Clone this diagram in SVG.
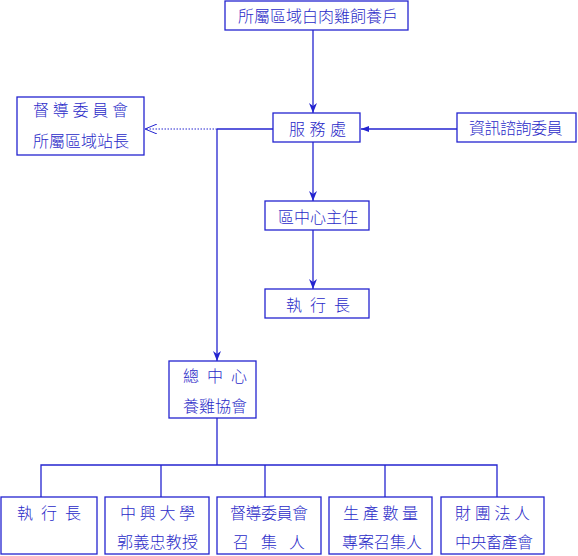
<svg xmlns="http://www.w3.org/2000/svg" width="578" height="556" viewBox="0 0 578 556">
<style>
.box{fill:#fff;stroke:#2424d0;stroke-width:1.3}
.ln{fill:none;stroke:#2424d0;stroke-width:1.3}
.dot{fill:none;stroke:#2424d0;stroke-width:1;stroke-dasharray:1.5 1.5}
text{font-family:"Noto Sans CJK TC","Noto Sans CJK SC",sans-serif;font-size:16px;font-weight:300;fill:#2a2ac8}
</style>
<defs>
<marker id="ah" viewBox="0 0 10 8" refX="10" refY="4" markerWidth="10" markerHeight="8" markerUnits="userSpaceOnUse" orient="auto">
<path d="M0,0 L10,4 L0,8 L3,4 Z" fill="#2424d0"/>
</marker>
<marker id="ahs" viewBox="0 0 8 6" refX="8" refY="3" markerWidth="8" markerHeight="6" markerUnits="userSpaceOnUse" orient="auto">
<path d="M0,0 L8,3 L0,6 Z" fill="#2424d0"/>
</marker>
<marker id="open" viewBox="0 0 12 10" refX="12" refY="5" markerWidth="12" markerHeight="10" markerUnits="userSpaceOnUse" orient="auto">
<path d="M0,0 L12,5 L0,10" fill="none" stroke="#2424d0" stroke-width="1"/>
</marker>
</defs>
<rect width="578" height="556" fill="#fff"/>
<g id="connectors">
<line class="ln" x1="313" y1="30" x2="313" y2="113" marker-end="url(#ah)"/>
<line class="ln" x1="457" y1="129" x2="361" y2="129" marker-end="url(#ahs)"/>
<line class="ln" x1="273" y1="129" x2="217" y2="129"/>
<line class="dot" x1="217" y1="129" x2="145" y2="129" marker-end="url(#open)"/>
<line class="ln" x1="217" y1="129" x2="217" y2="361" marker-end="url(#ah)"/>
<line class="ln" x1="313" y1="142" x2="313" y2="201" marker-end="url(#ah)"/>
<line class="ln" x1="313" y1="230" x2="313" y2="289" marker-end="url(#ah)"/>
<line class="ln" x1="217" y1="418" x2="217" y2="465"/>
<polyline class="ln" points="41,497 41,465 497,465 497,497"/>
<line class="ln" x1="161" y1="465" x2="161" y2="497"/>
<line class="ln" x1="265" y1="465" x2="265" y2="497"/>
<line class="ln" x1="385" y1="465" x2="385" y2="497"/>
</g>
<g id="n-farmers"><rect class="box" x="225" y="1" width="183" height="29"/><text x="238" y="22">所屬區域白肉雞飼養戶</text></g>
<g id="n-service"><rect class="box" x="273" y="113" width="87" height="29"/><text x="289" y="135" letter-spacing="4.5">服務處</text></g>
<g id="n-info"><rect class="box" x="457" y="113" width="119" height="29"/><text x="469" y="134" letter-spacing="-0.5">資訊諮詢委員</text></g>
<g id="n-supervise"><rect class="box" x="17" y="97" width="127" height="58"/><text x="33" y="116" letter-spacing="3.75">督導委員會</text><text x="33" y="147">所屬區域站長</text></g>
<g id="n-regional"><rect class="box" x="265" y="201" width="104" height="29"/><text x="278" y="223">區中心主任</text></g>
<g id="n-exec1"><rect class="box" x="265" y="289" width="104" height="29"/><text x="286" y="311" letter-spacing="8">執行長</text></g>
<g id="n-hq"><rect class="box" x="169" y="361" width="87" height="57"/><text x="183" y="382" letter-spacing="8">總中心</text><text x="183" y="412">養雞協會</text></g>
<g id="n-exec2"><rect class="box" x="1" y="497" width="96" height="57"/><text x="17" y="519" letter-spacing="8">執行長</text></g>
<g id="n-nchu"><rect class="box" x="105" y="497" width="104" height="57"/><text x="120" y="519" letter-spacing="3.7">中興大學</text><text x="117" y="548" letter-spacing="0.25">郭義忠教授</text></g>
<g id="n-convener"><rect class="box" x="217" y="497" width="104" height="57"/><text x="230" y="519" letter-spacing="-0.5">督導委員會</text><text x="233" y="548" letter-spacing="12">召集人</text></g>
<g id="n-production"><rect class="box" x="329" y="497" width="103" height="57"/><text x="343" y="519" letter-spacing="3.7">生產數量</text><text x="342" y="548">專案召集人</text></g>
<g id="n-foundation"><rect class="box" x="441" y="497" width="103" height="57"/><text x="455" y="519" letter-spacing="3.7">財團法人</text><text x="455" y="548" letter-spacing="-0.5">中央畜產會</text></g>
</svg>
